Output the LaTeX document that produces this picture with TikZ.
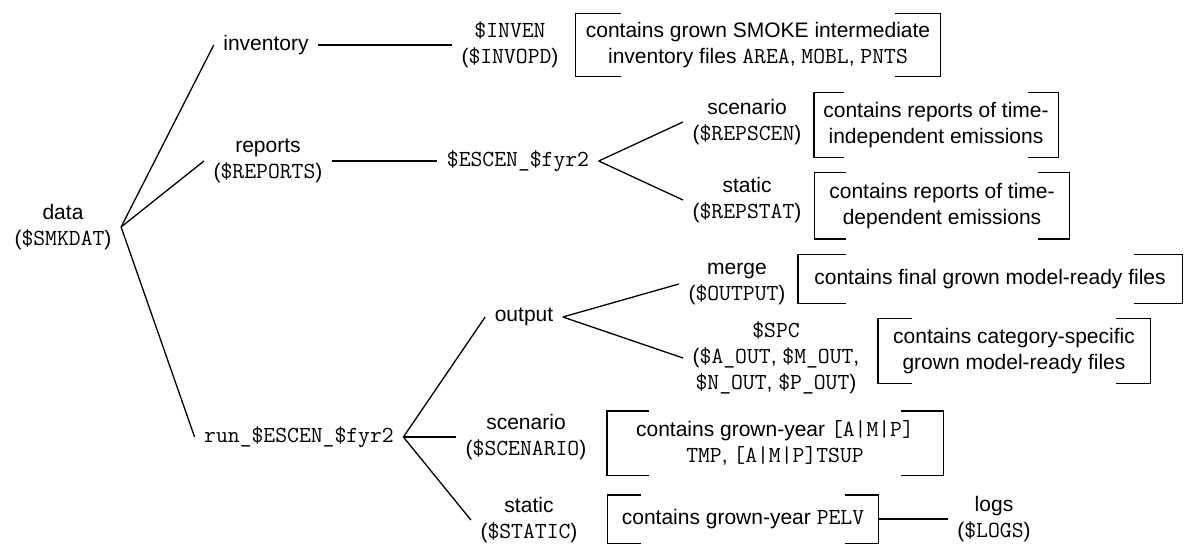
\documentclass[tikz,border=0pt]{standalone}
\usepackage{fontspec}
\setmainfont{Liberation Sans}
\usepackage{tikz}
\usetikzlibrary{calc}
\newcommand{\mono}[1]{{\fontsize{23}{26}\selectfont\ttfamily #1}}

\begin{document}
\begin{tikzpicture}[
  x=1pt, y=1pt,
  every node/.style={font=\fontsize{21}{26}\selectfont, align=center},
  dirnode/.style={inner xsep=9pt, inner ysep=1pt},
  notebox/.style={inner sep=0pt},
  every path/.style={line width=1.3pt},
]
  \useasboundingbox (0,0) rectangle (1186,544);

  % Nodes
  \node[dirnode] (data)    at (63, 317)  {data\\(\mono{\$SMKDAT})};
  \node[dirnode] (inv)     at (266, 499) {inventory};
  \node[dirnode] (rep)     at (268, 383) {reports\\(\mono{\$REPORTS})};
  \node[dirnode] (run)     at (299, 107) {\mono{run\_\$ESCEN\_\$fyr2}};
  \node[dirnode] (inven)   at (510, 499) {\mono{\$INVEN}\\(\mono{\$INVOPD})};
  \node[dirnode] (escen)   at (518, 383) {\mono{\$ESCEN\_\$fyr2}};
  \node[dirnode] (repscen) at (747, 422) {scenario\\(\mono{\$REPSCEN})};
  \node[dirnode] (repstat) at (747, 344) {static\\(\mono{\$REPSTAT})};
  \node[dirnode] (output)  at (524, 227) {output};
  \node[dirnode] (scen)    at (526, 107) {scenario\\(\mono{\$SCENARIO})};
  \node[dirnode] (stat)    at (529, 24)  {static\\(\mono{\$STATIC})};
  \node[dirnode] (merge)   at (737, 260) {merge\\(\mono{\$OUTPUT})};
  \node[dirnode] (spc)     at (776, 186) {\mono{\$SPC}\\(\mono{\$A\_OUT}, \mono{\$M\_OUT},\\\mono{\$N\_OUT}, \mono{\$P\_OUT})};
  \node[dirnode] (logs)    at (994, 25)  {logs\\(\mono{\$LOGS})};

  % Boxes
  \node[notebox, minimum width=364pt, minimum height=62pt] (b1) at (758, 499)
    {contains grown SMOKE intermediate\\inventory files \mono{AREA}, \mono{MOBL}, \mono{PNTS}};
  \node[notebox, minimum width=243pt, minimum height=64pt] (b2) at (936, 419)
    {contains reports of time-\\independent emissions};
  \node[notebox, minimum width=254pt, minimum height=65pt] (b3) at (942, 338)
    {contains reports of time-\\dependent emissions};
  \node[notebox, minimum width=383pt, minimum height=48pt] (b4) at (990, 265)
    {contains final grown model-ready files};
  \node[notebox, minimum width=271pt, minimum height=64pt] (b5) at (1014, 193)
    {contains category-specific\\grown model-ready files};
  \node[notebox, minimum width=335pt, minimum height=63pt] (b6) at (775, 101)
    {contains grown-year \mono{[A|M|P]}\\\mono{TMP}, \mono{[A|M|P]TSUP}};
  \node[notebox, minimum width=270pt, minimum height=47pt] (b7) at (743, 25)
    {contains grown-year \mono{PELV}};

  % Brackets round the boxes
  \foreach \b in {b1,b2,b3,b4,b5,b6,b7}
    \draw let \p1=(\b.north west), \p2=(\b.south east), \n1={(\x2-\x1)/8} in
      (\x1+\n1,\y1) -- (\x1,\y1) -- (\x1,\y2) -- (\x1+\n1,\y2)
      (\x2-\n1,\y1) -- (\x2,\y1) -- (\x2,\y2) -- (\x2-\n1,\y2);

  % Edges
  \draw (data.east) -- (inv.west);
  \draw (data.east) -- (rep.west);
  \draw (data.east) -- (run.west);
  \draw (inv.east) -- (inven.west);
  \draw (rep.east) -- (escen.west);
  \draw (escen.east) -- (repscen.west);
  \draw (escen.east) -- (repstat.west);
  \draw (run.east) -- (output.west);
  \draw (run.east) -- (scen.west);
  \draw (run.east) -- (stat.west);
  \draw (output.east) -- (merge.west);
  \draw (output.east) -- (spc.west);
  \draw (b7.east) -- (logs.west);
\end{tikzpicture}
\end{document}
